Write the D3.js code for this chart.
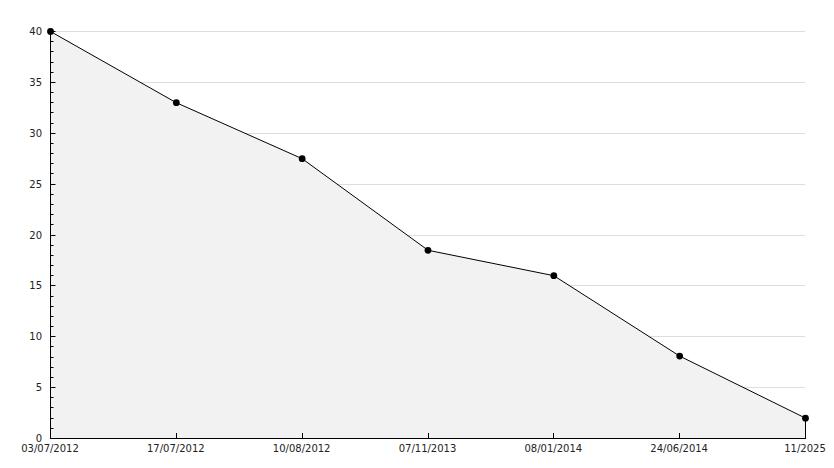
<!doctype html>
<html>
<head>
<meta charset="UTF-8">
<title>Line chart</title>
<script src="https://d3js.org/d3.v7.min.js"></script>
<style>
  body { margin: 0; background: #fff; }
  text { font-family: "DejaVu Sans", sans-serif; font-size: 10px; fill: #222; }
</style>
</head>
<body>
<script>
  // data
  var dates = ["03/07/2012", "17/07/2012", "10/08/2012", "07/11/2013", "08/01/2014", "24/06/2014", "11/2025"];
  var values = [40, 33, 27.5, 18.5, 16, 8.1, 2];
  var yTicks = [0, 5, 10, 15, 20, 25, 30, 35, 40];

  var w = 834, h = 468;
  var padL = 50, padR = 805, padT = 31, padB = 438;

  var svg = d3.select("body").append("svg")
    .attr("width", w)
    .attr("height", h);

  var x = d3.scalePoint().domain(d3.range(dates.length)).range([padL, padR]);
  var y = d3.scaleLinear().domain([0, 40]).range([padB, padT]);

  // grid
  svg.append("g").selectAll("line").data(yTicks.filter(function(d){ return d > 0; }))
    .enter().append("line")
    .attr("x1", padL).attr("x2", padR)
    .attr("y1", function(d){ return Math.round(y(d)) + 0.5; })
    .attr("y2", function(d){ return Math.round(y(d)) + 0.5; })
    .attr("stroke", "#dddddd");

  var pts = values.map(function(v, i){ return [x(i), y(v)]; });

  // area under the line
  var area = d3.area()
    .x(function(d){ return d[0] + 0.5; })
    .y0(padB + 0.5)
    .y1(function(d){ return d[1] + 0.5; });
  svg.append("path").datum(pts)
    .attr("d", area)
    .attr("fill", "#f2f2f2");

  // line
  var line = d3.line()
    .x(function(d){ return d[0] + 0.5; })
    .y(function(d){ return d[1] + 0.5; });
  svg.append("path").datum(pts)
    .attr("d", line)
    .attr("fill", "none")
    .attr("stroke", "#000")
    .attr("stroke-width", 1);

  // right edge of the area
  svg.append("line")
    .attr("x1", x(dates.length - 1) + 0.5).attr("x2", x(dates.length - 1) + 0.5)
    .attr("y1", y(values[values.length - 1])).attr("y2", padB)
    .attr("stroke", "#000");

  // y axis with minor ticks
  var yAxis = d3.axisRight(y).tickValues(d3.range(0, 41, 1)).tickSize(3).tickFormat("");
  var ga = svg.append("g").attr("transform", "translate(" + (padL + 0.5) + ",0)").call(yAxis);
  ga.select(".domain").remove();
  ga.selectAll(".tick").attr("transform", function(d){ return "translate(0," + (Math.round(y(d)) + 0.5) + ")"; });
  ga.selectAll(".tick").filter(function(d){ return d % 5 === 0; }).select("line").attr("x2", 5);
  svg.append("line")
    .attr("x1", padL + 0.5).attr("x2", padL + 0.5)
    .attr("y1", padT).attr("y2", padB + 1)
    .attr("stroke", "#000");
  svg.append("g").selectAll("text").data(yTicks)
    .enter().append("text")
    .attr("x", padL - 8)
    .attr("y", function(d){ return y(d) + 4; })
    .attr("text-anchor", "end")
    .text(function(d){ return d; });

  // x axis
  svg.append("line")
    .attr("x1", padL).attr("x2", padR + 1)
    .attr("y1", padB + 0.5).attr("y2", padB + 0.5)
    .attr("stroke", "#000");
  svg.append("g").selectAll("line").data(d3.range(1, dates.length - 1))
    .enter().append("line")
    .attr("x1", function(i){ return Math.round(x(i)) + 0.5; })
    .attr("x2", function(i){ return Math.round(x(i)) + 0.5; })
    .attr("y1", padB - 5).attr("y2", padB)
    .attr("stroke", "#000");
  svg.append("g").selectAll("text").data(dates)
    .enter().append("text")
    .attr("x", function(d, i){ return x(i); })
    .attr("y", padB + 14)
    .attr("text-anchor", "middle")
    .text(function(d){ return d; });

  // markers
  svg.append("g").selectAll("path").data(pts)
    .enter().append("path")
    .attr("transform", function(d){ return "translate(" + (d[0] + 0.5) + "," + (d[1] + 0.5) + ")"; })
    .attr("d", d3.symbol().type(d3.symbolCircle).size(36))
    .attr("fill", "#000");
</script>
</body>
</html>
